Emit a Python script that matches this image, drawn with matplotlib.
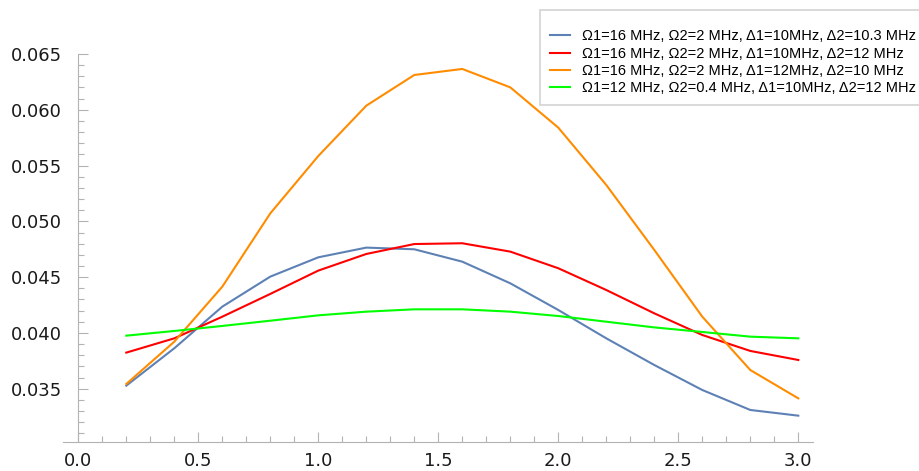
import matplotlib
matplotlib.use("Agg")
import matplotlib.pyplot as plt
from matplotlib.ticker import MultipleLocator, FormatStrFormatter

t = [0.2, 0.4, 0.6, 0.8, 1.0, 1.2, 1.4, 1.6, 1.8, 2.0, 2.2, 2.4, 2.6, 2.8, 3.0]

blue = [0.03528, 0.03863, 0.04236, 0.04505, 0.04678, 0.04765, 0.04750, 0.04639,
        0.04445, 0.04206, 0.03952, 0.03713, 0.03489, 0.03310, 0.03259]
red = [0.03824, 0.03952, 0.04146, 0.04350, 0.04559, 0.04708, 0.04797, 0.04804,
       0.04729, 0.04580, 0.04385, 0.04176, 0.03982, 0.03839, 0.03758]
orange = [0.03543, 0.03922, 0.04415, 0.05072, 0.05586, 0.06037, 0.06312, 0.06366,
          0.06201, 0.05840, 0.05326, 0.04744, 0.04146, 0.03668, 0.03414]
green = [0.03976, 0.04018, 0.04063, 0.04110, 0.04158, 0.04191, 0.04212, 0.04212,
         0.04191, 0.04152, 0.04101, 0.04050, 0.04009, 0.03967, 0.03952]

labels = [
    "Ω1=16 MHz, Ω2=2 MHz, Δ1=10MHz, Δ2=10.3 MHz",
    "Ω1=16 MHz, Ω2=2 MHz, Δ1=10MHz, Δ2=12 MHz",
    "Ω1=16 MHz, Ω2=2 MHz, Δ1=12MHz, Δ2=10 MHz",
    "Ω1=12 MHz, Ω2=0.4 MHz, Δ1=10MHz, Δ2=12 MHz",
]
colors = ["#5E81B5", "#FF0000", "#FF8C00", "#00FF00"]

plt.rcParams['font.family'] = ['DejaVu Sans']

fig = plt.figure(figsize=(9.2, 4.71), dpi=100)
ax = fig.add_axes([62.7/920, 29/471, (813.3-62.7)/920, (442-54)/471])

series = [blue, red, orange, green]
handles = []
for y, c, lab in zip(series, colors, labels):
    h, = ax.plot(t, y, color=c, lw=1.5, label=lab)
    handles.append(h)

ax.set_xlim(-0.065, 3.0625)
ax.set_ylim(0.03023, 0.065)

axis_gray = "#b3b3b3"
for s in ["top", "right"]:
    ax.spines[s].set_visible(False)
ax.spines["left"].set_position(("data", 0))
ax.spines["left"].set_color(axis_gray)
ax.spines["bottom"].set_color(axis_gray)

ax.xaxis.set_major_locator(MultipleLocator(0.5))
ax.xaxis.set_minor_locator(MultipleLocator(0.1))
ax.yaxis.set_major_locator(MultipleLocator(0.005))
ax.yaxis.set_minor_locator(MultipleLocator(0.001))
ax.xaxis.set_major_formatter(FormatStrFormatter('%.1f'))
ax.yaxis.set_major_formatter(FormatStrFormatter('%.3f'))

ax.tick_params(which="major", direction="in", length=7, width=0.8, color=axis_gray,
               labelsize=13, labelcolor="#1a1a1a")
ax.tick_params(which="minor", direction="in", length=4, width=0.8, color=axis_gray)
ax.tick_params(axis="y", pad=12)
ax.tick_params(axis="x", pad=7)

leg = fig.legend(handles=handles, labels=labels, loc="upper left",
                 bbox_to_anchor=(540/920, 1 - 10/471),
                 prop={"family": ["Liberation Sans", "DejaVu Sans"], "size": 10.5},
                 frameon=True, fancybox=False, borderpad=0.7,
                 handlelength=1.35, handletextpad=0.8, labelspacing=0.22,
                 title=" ", title_fontsize=5,
                 edgecolor="#c8c8c8", borderaxespad=0)
leg.get_frame().set_linewidth(1.2)

fig.savefig("out.png", dpi=100)
